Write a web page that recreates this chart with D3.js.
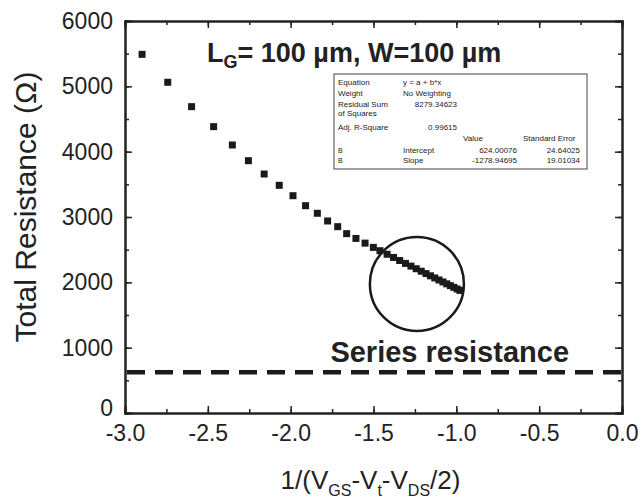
<!DOCTYPE html>
<meta charset="utf-8">
<script src="https://d3js.org/d3.v7.min.js"></script>
<style>
    body { margin: 0; background: #fff; }
    text { font-family: Arial, "Liberation Sans", sans-serif; fill: #222; }
</style>
<svg width="641" height="502"></svg>

<script>
    // measured points: x = 1/(Vgs-Vt-Vds/2), y = total resistance (ohm)
    const xValues = [-2.897, -2.742, -2.598, -2.465, -2.352, -2.255, -2.160, -2.069, -1.986, -1.910,
        -1.839, -1.777, -1.716, -1.662, -1.606, -1.551, -1.501, -1.461, -1.418, -1.379,
        -1.342, -1.307, -1.274, -1.242, -1.212, -1.183, -1.156, -1.130, -1.105, -1.081,
        -1.058, -1.036, -1.015, -0.995, -0.978];
    const yValues = [5490, 5062, 4689, 4383, 4102, 3862, 3658, 3485, 3326, 3173,
        3057, 2939, 2852, 2745, 2672, 2600, 2535, 2484, 2430, 2381,
        2334, 2290, 2248, 2208, 2170, 2134, 2100, 2067, 2036, 2006,
        1977, 1949, 1923, 1898, 1877];

    const seriesResistance = 624;
    const xTicks = [-3.0, -2.5, -2.0, -1.5, -1.0, -0.5, 0.0];
    const yTicks = [0, 1000, 2000, 3000, 4000, 5000, 6000];

    // fit report (inset)
    const fitLabels = ["Equation", "Weight", "Residual Sum", "of Squares", "Adj. R-Square"];
    const fitEntries = ["y = a + b*x", "No Weighting", "8279.34623", "", "0.99615"];
    const paramNames = ["Intercept", "Slope"];
    const paramValues = ["624.00076", "-1278.94695"];
    const paramErrors = ["24.64025", "19.01034"];

    const margin = {top: 21, right: 19, bottom: 89, left: 125},
        width = 641 - margin.left - margin.right,
        height = 502 - margin.top - margin.bottom;

    const svg = d3.select("svg")
        .append("g")
        .attr("transform", "translate(" + margin.left + "," + margin.top + ")");

    const x = d3.scaleLinear().domain([-3, 0]).range([0, width]);
    const y = d3.scaleLinear().domain([0, 6000]).range([height, 0]);

    const minorX = d3.range(-3, 0.001, 0.25);
    const minorY = d3.range(0, 6001, 500);

    // axes, ticks inward on all four sides
    svg.append("g").attr("transform", "translate(0," + height + ")")
        .call(d3.axisBottom(x).tickValues(minorX).tickSize(-4).tickFormat(""));
    svg.append("g").attr("transform", "translate(0," + height + ")")
        .call(d3.axisBottom(x).tickValues(xTicks).tickSize(-7).tickPadding(14).tickFormat(d => d.toFixed(1)))
        .selectAll("text").style("font-size", "23px").attr("dy", "0.6em");
    svg.append("g")
        .call(d3.axisTop(x).tickValues(minorX).tickSize(-4).tickFormat(""));
    svg.append("g")
        .call(d3.axisTop(x).tickValues(xTicks).tickSize(-7).tickFormat(""));

    svg.append("g")
        .call(d3.axisLeft(y).tickValues(minorY).tickSize(-4).tickFormat(""));
    svg.append("g")
        .call(d3.axisLeft(y).tickValues(yTicks).tickSize(-7).tickPadding(12).tickFormat(d3.format("d")))
        .selectAll("text")
        .style("font-size", "23px")
        .attr("dy", d => d === 0 ? "0.1em" : "0.32em");
    svg.append("g").attr("transform", "translate(" + width + ",0)")
        .call(d3.axisRight(y).tickValues(minorY).tickSize(-4).tickFormat(""));
    svg.append("g").attr("transform", "translate(" + width + ",0)")
        .call(d3.axisRight(y).tickValues(yTicks).tickSize(-7).tickFormat(""));

    svg.selectAll(".domain").attr("stroke", "#222").attr("stroke-width", 2);
    svg.selectAll(".tick line").attr("stroke", "#222").attr("stroke-width", 1.5);

    // axis titles
    const xt = svg.append("text")
        .attr("x", width / 2 - 3)
        .attr("y", height + 76)
        .attr("text-anchor", "middle")
        .style("font-size", "26px");
    xt.append("tspan").text("1/(V");
    xt.append("tspan").text("GS").attr("dy", 7).style("font-size", "16px");
    xt.append("tspan").text("-V").attr("dy", -7);
    xt.append("tspan").text("t").attr("dy", 7).style("font-size", "16px");
    xt.append("tspan").text("-V").attr("dy", -7);
    xt.append("tspan").text("DS").attr("dy", 7).style("font-size", "16px");
    xt.append("tspan").text("/2)").attr("dy", -7);

    svg.append("text")
        .attr("transform", "translate(" + (-89) + "," + (height / 2 - 10) + ") rotate(-90)")
        .attr("text-anchor", "middle")
        .style("font-size", "30px")
        .text("Total Resistance (Ω)");

    // series resistance line
    svg.append("line")
        .attr("x1", x(-3) + 2).attr("x2", x(0))
        .attr("y1", y(seriesResistance)).attr("y2", y(seriesResistance))
        .attr("stroke", "#1a1a1a")
        .attr("stroke-width", 4.5)
        .attr("stroke-dasharray", "18,10");

    svg.append("text")
        .attr("x", x(-1.04))
        .attr("y", y(seriesResistance) - 10)
        .attr("text-anchor", "middle")
        .style("font-size", "29px")
        .style("font-weight", "bold")
        .text("Series resistance");

    // data squares
    const size = 7;
    svg.append("g")
        .selectAll("rect")
        .data(xValues)
        .enter()
        .append("rect")
        .attr("x", (d, i) => x(d) - size / 2)
        .attr("y", (d, i) => y(yValues[i]) - size / 2)
        .attr("width", size)
        .attr("height", size)
        .attr("fill", "#1a1a1a");

    // circled region
    svg.append("circle")
        .attr("cx", x(-1.238))
        .attr("cy", y(1975))
        .attr("r", 47)
        .attr("fill", "none")
        .attr("stroke", "#1a1a1a")
        .attr("stroke-width", 2.5);

    // title
    const title = svg.append("text")
        .attr("x", 82)
        .attr("y", 41)
        .style("font-size", "27px")
        .style("font-weight", "bold");
    title.append("tspan").text("L");
    title.append("tspan").text("G").attr("dy", 6).style("font-size", "18px");
    title.append("tspan").text("= 100 µm, W=100 µm").attr("dy", -6);

    // fit result inset
    const box = svg.append("g").attr("transform", "translate(" + (334 - margin.left) + "," + (74 - margin.top) + ")");
    box.append("rect")
        .attr("width", 253).attr("height", 95)
        .attr("fill", "#fff")
        .attr("stroke", "#444")
        .attr("stroke-width", 1);

    const rowY = [8, 19, 30, 39, 53];
    box.selectAll(".lbl").data(fitLabels).enter().append("text")
        .attr("x", 4).attr("y", (d, i) => rowY[i] + 3)
        .style("font-size", "8px").text(d => d);
    box.selectAll(".ent").data(fitEntries).enter().append("text")
        .attr("x", (d, i) => i < 2 ? 69 : 123)
        .attr("y", (d, i) => rowY[i] + 3)
        .attr("text-anchor", (d, i) => i < 2 ? "start" : "end")
        .style("font-size", "8px").text(d => d);

    box.append("text").attr("x", 129).attr("y", 67).style("font-size", "8px").text("Value");
    box.append("text").attr("x", 189).attr("y", 67).style("font-size", "8px").text("Standard Error");

    const paramY = [79, 89];
    paramNames.forEach((p, i) => {
        box.append("text").attr("x", 4).attr("y", paramY[i]).style("font-size", "7px").text("B");
        box.append("text").attr("x", 69).attr("y", paramY[i]).style("font-size", "8px").text(p);
        box.append("text").attr("x", 183).attr("y", paramY[i]).attr("text-anchor", "end").style("font-size", "8px").text(paramValues[i]);
        box.append("text").attr("x", 246).attr("y", paramY[i]).attr("text-anchor", "end").style("font-size", "8px").text(paramErrors[i]);
    });
</script>
